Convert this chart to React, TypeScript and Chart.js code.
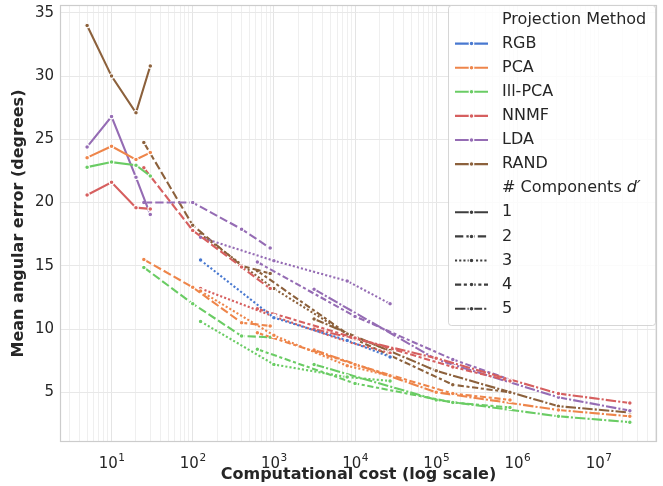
import React, { useEffect, useRef } from 'react';
import { Chart, registerables } from 'chart.js';
Chart.register(...registerables);

const W = 663;
const H = 486;

// ---- data ----
const methodNames = ['RGB', 'PCA', 'Ill-PCA', 'NNMF', 'LDA', 'RAND'];
const componentLabels = ['1', '2', '3', '4', '5'];

const costD1 = [5, 10, 20, 30];
const costD2 = [25, 100, 400, 900];
const costD3 = [125, 1000, 8000, 27000];
const costD4 = [625, 10000, 160000, 810000];
const costD5 = [3125, 100000, 3200000, 24300000];

const rgbD3 = [15.45, 10.9, 9.1, 7.8];

const pcaD1 = [23.55, 24.45, 23.4, 23.95];
const pcaD2 = [15.5, 13.3, 10.5, 10.25];
const pcaD3 = [13.0, 9.5, 7.1, 6.3];
const pcaD4 = [9.7, 7.2, 4.9, 4.4];
const pcaD5 = [8.35, 5.0, 3.6, 3.1];

const illD1 = [22.8, 23.2, 22.95, 22.1];
const illD2 = [14.87, 12.0, 9.45, 9.35];
const illD3 = [10.6, 7.2, 6.2, 5.9];
const illD4 = [8.4, 5.7, 4.2, 3.8];
const illD5 = [7.2, 4.4, 3.1, 2.64];

const nnmfD1 = [20.6, 21.6, 19.6, 19.5];
const nnmfD2 = [22.75, 17.8, 14.9, 13.2];
const nnmfD3 = [13.2, 11.0, 9.0, 8.1];
const nnmfD4 = [11.6, 9.3, 7.0, 5.9];
const nnmfD5 = [10.0, 7.7, 4.9, 4.15];

const ldaD1 = [24.4, 26.8, 22.0, 19.05];
const ldaD2 = [20.0, 20.0, 17.9, 16.4];
const ldaD3 = [17.25, 15.4, 13.8, 12.0];
const ldaD4 = [15.3, 11.0, 7.6, 6.0];
const ldaD5 = [13.15, 7.6, 4.6, 3.55];

const randD1 = [34.0, 30.0, 27.1, 30.8];
const randD2 = [24.75, 18.2, 15.0, 14.4];
const randD3 = [17.5, 13.2, 9.6, 8.3];
const randD4 = [14.6, 9.2, 5.6, 5.0];
const randD5 = [10.8, 6.7, 3.9, 3.4];

const yTickValues = [5, 10, 15, 20, 25, 30, 35];
const xLabelPowers = [1, 2, 3, 4, 5, 6, 7];

// ---- styles ----
const methodColors = ['#4878d0', '#ee854a', '#6acc64', '#d65f5f', '#956cb4', '#8c613c'];
const dashPatterns: number[][] = [[], [8.3, 3.1], [2.1, 2.1], [6.2, 2.6, 3.1, 2.6], [10.4, 2.1, 2.1, 2.1]];
const styleGray = '#3d3d3d';
const textColor = '#262626';
const FONT = '"DejaVu Sans", "Liberation Sans", sans-serif';
const MARKER_R = 2.3;
const MARKER_EDGE = 1.1;

const costs = [costD1, costD2, costD3, costD4, costD5];

// [method index, component index, values]
const seriesTable: [number, number, number[]][] = [
  [0, 2, rgbD3],
  [1, 0, pcaD1], [1, 1, pcaD2], [1, 2, pcaD3], [1, 3, pcaD4], [1, 4, pcaD5],
  [2, 0, illD1], [2, 1, illD2], [2, 2, illD3], [2, 3, illD4], [2, 4, illD5],
  [3, 0, nnmfD1], [3, 1, nnmfD2], [3, 2, nnmfD3], [3, 3, nnmfD4], [3, 4, nnmfD5],
  [4, 0, ldaD1], [4, 1, ldaD2], [4, 2, ldaD3], [4, 3, ldaD4], [4, 4, ldaD5],
  [5, 0, randD1], [5, 1, randD2], [5, 2, randD3], [5, 3, randD4], [5, 4, randD5],
];

const X_MIN = Math.pow(10, 0.365);
const X_MAX = Math.pow(10, 7.72);
const Y_MIN = 1.07;
const Y_MAX = 35.62;

const isPow10 = (v: number) => {
  const l = Math.log10(v);
  return Math.abs(l - Math.round(l)) < 1e-9;
};

const xGridValues: number[] = [];
for (let n = 0; n <= 8; n++) {
  for (let k = 1; k <= 9; k++) {
    const v = k * Math.pow(10, n);
    if (v >= X_MIN && v <= X_MAX) xGridValues.push(v);
  }
}

function drawMarker(ctx: CanvasRenderingContext2D, x: number, y: number, color: string) {
  ctx.beginPath();
  ctx.arc(x, y, MARKER_R, 0, Math.PI * 2);
  ctx.fillStyle = color;
  ctx.fill();
  ctx.lineWidth = MARKER_EDGE;
  ctx.strokeStyle = '#ffffff';
  ctx.setLineDash([]);
  ctx.stroke();
}

const decorPlugin = {
  id: 'decor',
  afterDraw(chart: any) {
    const ctx: CanvasRenderingContext2D = chart.ctx;
    const ca = chart.chartArea;
    ctx.save();
    // frame
    ctx.strokeStyle = '#cccccc';
    ctx.lineWidth = 1.2;
    ctx.setLineDash([]);
    ctx.strokeRect(ca.left + 0.5, ca.top + 0.5, ca.right - ca.left - 1, ca.bottom - ca.top - 1);

    // x tick labels with superscripts
    const xs = chart.scales.x;
    ctx.fillStyle = textColor;
    ctx.textAlign = 'left';
    ctx.textBaseline = 'alphabetic';
    for (const p of xLabelPowers) {
      const px = xs.getPixelForValue(Math.pow(10, p));
      ctx.font = `15px ${FONT}`;
      const w1 = ctx.measureText('10').width;
      ctx.font = `10.5px ${FONT}`;
      const w2 = ctx.measureText(String(p)).width;
      const start = px - (w1 + w2) / 2;
      ctx.font = `15px ${FONT}`;
      ctx.fillText('10', start, 468);
      ctx.font = `10.5px ${FONT}`;
      ctx.fillText(String(p), start + w1 + 0.5, 460.5);
    }

    // axis titles
    ctx.font = `bold 16px ${FONT}`;
    ctx.textAlign = 'center';
    ctx.textBaseline = 'middle';
    ctx.fillText('Computational cost (log scale)', (ca.left + ca.right) / 2, 475);
    ctx.save();
    ctx.translate(19, (ca.top + ca.bottom) / 2);
    ctx.rotate(-Math.PI / 2);
    ctx.fillText('Mean angular error (degrees)', 0, 0);
    ctx.restore();

    // legend
    const bx = 448.5, by = 5.5, bw = 207, bh = 320, r = 3;
    ctx.beginPath();
    ctx.moveTo(bx + r, by);
    ctx.lineTo(bx + bw - r, by);
    ctx.quadraticCurveTo(bx + bw, by, bx + bw, by + r);
    ctx.lineTo(bx + bw, by + bh - r);
    ctx.quadraticCurveTo(bx + bw, by + bh, bx + bw - r, by + bh);
    ctx.lineTo(bx + r, by + bh);
    ctx.quadraticCurveTo(bx, by + bh, bx, by + bh - r);
    ctx.lineTo(bx, by + r);
    ctx.quadraticCurveTo(bx, by, bx + r, by);
    ctx.closePath();
    ctx.fillStyle = 'rgba(255,255,255,0.8)';
    ctx.fill();
    ctx.strokeStyle = 'rgba(204,204,204,0.8)';
    ctx.lineWidth = 1;
    ctx.stroke();

    const y0 = 19.5, dy = 24.1;
    const hx0 = 455, hx1 = 488, tx = 502;
    let row = 0;
    const text = (t: string, y: number) => {
      ctx.font = `16px ${FONT}`;
      ctx.fillStyle = textColor;
      ctx.textAlign = 'left';
      ctx.textBaseline = 'middle';
      ctx.fillText(t, tx, y);
    };
    const handle = (y: number, color: string, dash: number[]) => {
      ctx.beginPath();
      ctx.moveTo(hx0, y);
      ctx.lineTo(hx1, y);
      ctx.strokeStyle = color;
      ctx.lineWidth = 2.1;
      ctx.setLineDash(dash);
      ctx.stroke();
      ctx.setLineDash([]);
      drawMarker(ctx, (hx0 + hx1) / 2, y, color);
    };
    text('Projection Method', y0 + dy * row++);
    methodNames.forEach((m, i) => {
      const y = y0 + dy * row++;
      handle(y, methodColors[i], []);
      text(m, y);
    });
    {
      const y = y0 + dy * row++;
      text('# Components ', y);
      ctx.font = `16px ${FONT}`;
      const w = ctx.measureText('# Components ').width;
      ctx.font = `italic 16px ${FONT}`;
      ctx.fillText('d\u2032', tx + w, y);
    }
    componentLabels.forEach((c, i) => {
      const y = y0 + dy * row++;
      handle(y, styleGray, dashPatterns[i]);
      text(c, y);
    });
    ctx.restore();
  },
};

export default function App() {
  const ref = useRef<HTMLCanvasElement>(null);
  useEffect(() => {
    document.body.style.margin = '0';
    const datasets = seriesTable.map(([mi, di, vals]) => ({
      label: `${methodNames[mi]} d=${componentLabels[di]}`,
      data: costs[di].map((x, i) => ({ x, y: vals[i] })),
      borderColor: methodColors[mi],
      backgroundColor: methodColors[mi],
      borderWidth: 2.1,
      borderDash: dashPatterns[di],
      pointRadius: MARKER_R,
      pointHoverRadius: MARKER_R,
      pointBackgroundColor: methodColors[mi],
      pointBorderColor: '#ffffff',
      pointBorderWidth: MARKER_EDGE,
      tension: 0,
      fill: false,
    }));
    const chart = new Chart(ref.current as HTMLCanvasElement, {
      type: 'line',
      data: { datasets },
      options: {
        animation: false,
        responsive: false,
        devicePixelRatio: 1,
        events: [],
        layout: { padding: { top: 5, right: 6, left: 0, bottom: 0 } },
        plugins: { legend: { display: false }, tooltip: { enabled: false }, title: { display: false } },
        scales: {
          x: {
            type: 'logarithmic',
            min: X_MIN,
            max: X_MAX,
            afterBuildTicks: (scale: any) => {
              scale.ticks = xGridValues.map((v) => ({ value: v, major: isPow10(v) }));
            },
            afterFit: (scale: any) => {
              scale.height = 44;
              scale.paddingLeft = 0;
              scale.paddingRight = 0;
              scale.paddingTop = 0;
              scale.paddingBottom = 0;
            },
            ticks: { display: false, autoSkip: false },
            grid: {
              color: (c: any) => (c.tick && isPow10(c.tick.value) ? '#e4e4e4' : '#efefef'),
              lineWidth: 1,
              drawTicks: false,
            },
            border: { display: false },
          },
          y: {
            type: 'linear',
            min: Y_MIN,
            max: Y_MAX,
            afterBuildTicks: (scale: any) => {
              scale.ticks = yTickValues.map((v) => ({ value: v }));
            },
            afterFit: (scale: any) => {
              scale.width = 60;
              scale.paddingTop = 0;
              scale.paddingBottom = 0;
              scale.paddingLeft = 0;
              scale.paddingRight = 0;
            },
            ticks: { font: { family: FONT, size: 15 }, color: textColor, padding: 6 },
            grid: { color: '#e8e8e8', lineWidth: 1, drawTicks: false },
            border: { display: false },
          },
        },
      } as any,
      plugins: [decorPlugin],
    });
    return () => chart.destroy();
  }, []);
  return (
    <div style={{ width: W, height: H, position: 'relative', background: '#ffffff' }}>
      <canvas ref={ref} width={W} height={H} style={{ display: 'block', width: W, height: H }} />
    </div>
  );
}
